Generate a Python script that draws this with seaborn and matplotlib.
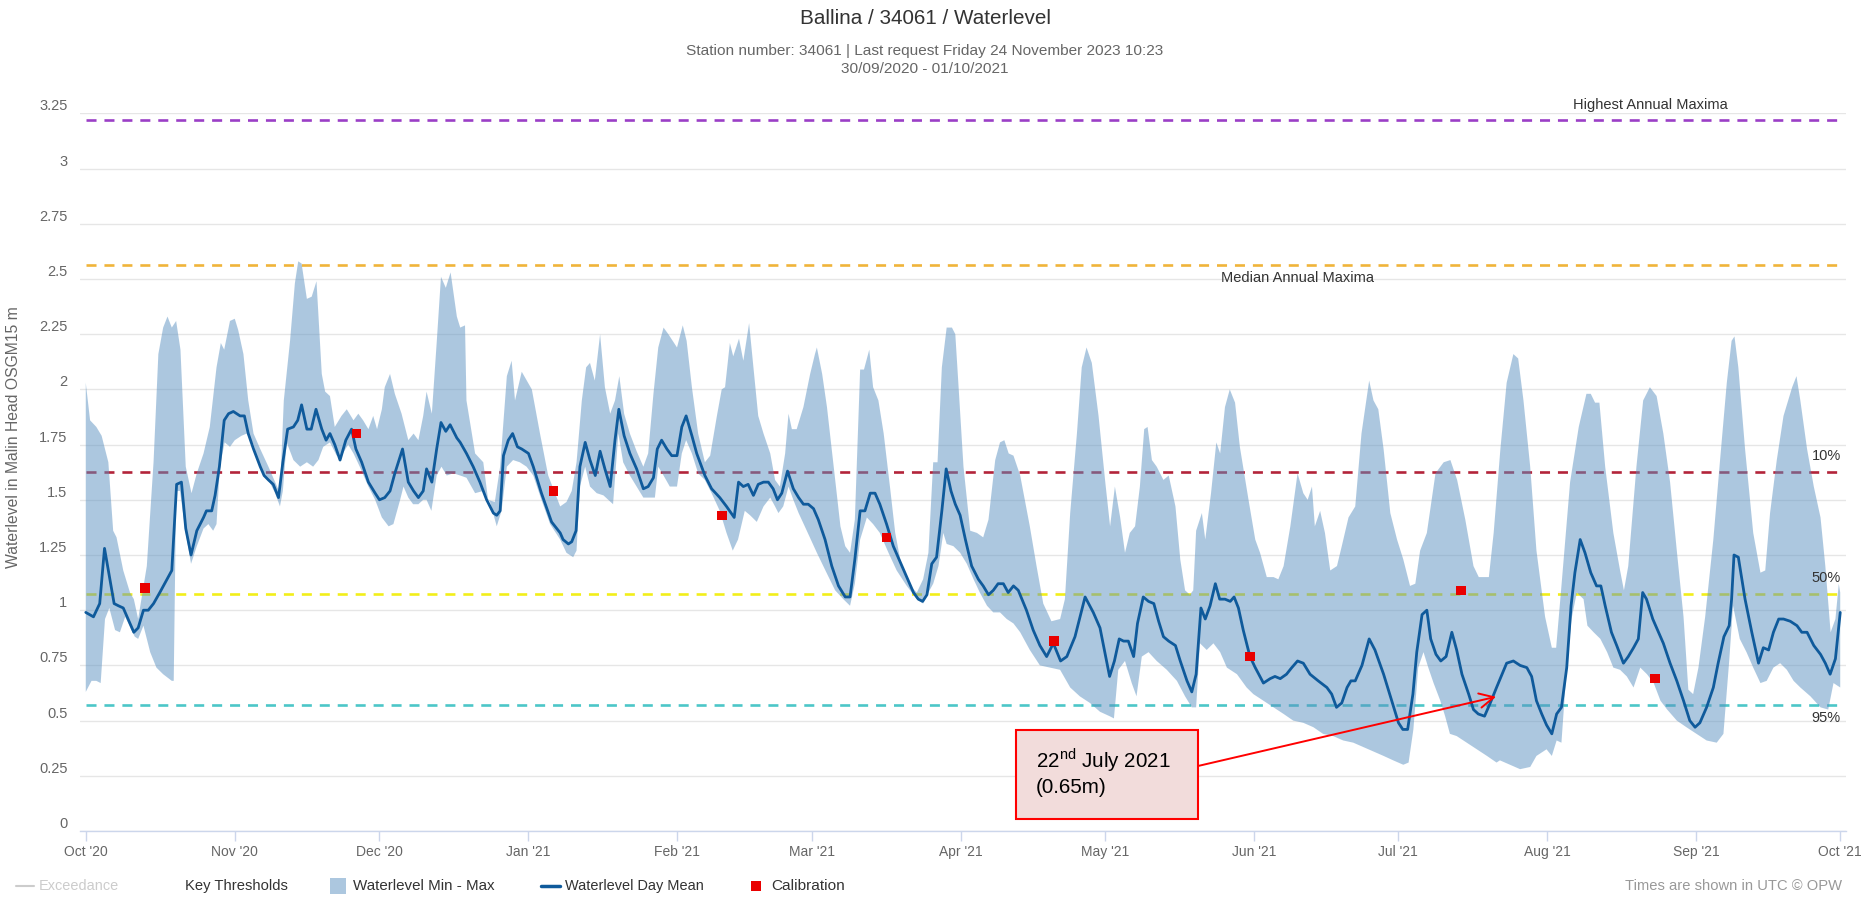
import matplotlib
matplotlib.use("Agg")
import numpy as np
import pandas as pd
import seaborn as sns
import matplotlib.pyplot as plt
from matplotlib.patches import Rectangle
from matplotlib.lines import Line2D

# ---------------------
#   data, days counted from 1 Oct 2020
# ---------------------
START = pd.Timestamp("2020-10-01")

mean_day = [0, 1.6, 2.9, 3.9, 4.7, 5.9, 6.8, 7.8, 9.2, 10.0, 10.9, 12.0, 13.0, 14.1, 15.4, 17.9, 18.9, 19.9,
            20.8, 21.9, 23.1, 24.5, 25.1, 26.2, 26.9, 27.8, 28.8, 29.7, 30.7, 32.1, 33.0, 33.8, 34.9, 36.3,
            37.1, 38.0, 39.0, 40.1, 41.0, 42.0, 43.2, 44.1, 44.9, 46.0, 46.9, 47.9, 49.1, 50.0, 50.8, 51.8,
            52.9, 54.1, 55.3, 56.2, 57.4, 58.8, 60.2, 61.1, 62.2, 63.3, 64.3, 65.9, 67.1, 68.2, 69.2, 70.2,
            70.9, 72.0, 73.0, 73.9, 74.9, 75.8, 77.2, 77.9, 79.2, 80.6, 82.0, 83.4, 84.8, 85.5, 86.2, 86.9,
            87.9, 88.8, 89.8, 90.7, 92.1, 93.1, 94.8, 96.9, 98.7, 99.3, 100.4, 101.1, 102.0, 102.8, 103.9,
            104.9, 106.0, 107.0, 108.0, 109.1, 110.1, 110.9, 112.0, 113.2, 114.6, 116.0, 117.0, 118.1, 118.9,
            119.8, 120.9, 121.9, 123.0, 124.0, 124.9, 126.1, 127.1, 128.8, 130.2, 131.9, 133.3, 134.9, 135.8,
            136.8, 137.8, 138.9, 139.9, 141.0, 142.0, 143.0, 143.9, 144.8, 146.0, 147.2, 148.3, 149.3, 150.3,
            151.4, 152.4, 153.8, 155.2, 156.6, 158.0, 159.0, 160.0, 161.1, 162.1, 163.2, 164.2, 165.2, 166.6,
            168.0, 169.4, 170.8, 172.2, 173.2, 174.1, 175.0, 176.0, 177.0, 178.1, 179.0, 180.0, 180.9, 181.9,
            183.0, 184.3, 185.7, 186.7, 187.8, 188.8, 189.8, 190.9, 191.9, 193.0, 194.0, 195.7, 197.1, 198.5,
            199.9, 201.3, 202.8, 204.1, 205.8, 207.9, 209.6, 211.0, 213.0, 214.0, 215.0, 215.9, 216.9, 218.0,
            218.8, 220.0, 221.1, 222.2, 223.2, 224.2, 225.3, 226.7, 227.7, 229.1, 230.1, 231.0, 232.0, 232.9,
            233.9, 235.0, 235.9, 237.0, 238.1, 238.9, 239.8, 240.8, 242.2, 243.3, 245.0, 246.4, 247.4, 248.5,
            249.8, 250.9, 252.1, 253.3, 254.7, 256.4, 258.2, 259.2, 260.2, 261.3, 262.4, 263.2, 264.1, 265.5,
            267.0, 268.2, 270.0, 271.4, 273.1, 274.0, 275.0, 276.1, 276.9, 278.0, 279.0, 279.8, 280.9, 281.9,
            283.0, 284.2, 285.2, 286.3, 287.7, 288.7, 289.7, 291.0, 292.2, 293.5, 295.6, 297.0, 298.4, 299.8,
            300.8, 301.8, 302.9, 303.9, 305.0, 306.0, 307.0, 308.1, 309.0, 309.8, 310.9, 311.9, 313.1, 314.3,
            315.2, 316.1, 317.4, 318.5, 319.9, 320.9, 322.0, 323.0, 323.9, 324.7, 326.0, 327.2, 328.2, 329.6,
            331.0, 332.4, 333.7, 334.8, 335.8, 337.2, 338.6, 339.6, 340.8, 341.9, 342.4, 342.9, 343.8, 345.2,
            346.6, 348.0, 349.0, 350.1, 351.1, 352.2, 353.2, 354.6, 356.0, 357.0, 358.1, 359.5, 360.9, 361.9,
            362.9, 364.0, 365.0]
mean_level = [0.99, 0.97, 1.03, 1.28, 1.18, 1.03, 1.02, 1.01, 0.94, 0.90, 0.92, 1.00, 1.00, 1.03, 1.08, 1.18, 1.57, 1.58,
              1.37, 1.25, 1.36, 1.42, 1.45, 1.45, 1.52, 1.65, 1.86, 1.89, 1.90, 1.88, 1.88, 1.80, 1.73, 1.65,
              1.61, 1.59, 1.57, 1.51, 1.67, 1.82, 1.83, 1.86, 1.93, 1.82, 1.82, 1.91, 1.82, 1.77, 1.80, 1.75,
              1.68, 1.77, 1.82, 1.73, 1.67, 1.58, 1.53, 1.50, 1.51, 1.54, 1.62, 1.73, 1.58, 1.54, 1.51, 1.54,
              1.64, 1.58, 1.73, 1.85, 1.81, 1.84, 1.78, 1.76, 1.71, 1.65, 1.58, 1.50, 1.44, 1.43, 1.45, 1.70,
              1.77, 1.80, 1.74, 1.73, 1.71, 1.65, 1.53, 1.40, 1.35, 1.32, 1.30, 1.31, 1.36, 1.65, 1.76,
              1.68, 1.61, 1.72, 1.64, 1.56, 1.77, 1.91, 1.79, 1.71, 1.64, 1.55, 1.56, 1.60, 1.73,
              1.77, 1.73, 1.70, 1.70, 1.83, 1.88, 1.79, 1.71, 1.61, 1.55, 1.51, 1.47, 1.42, 1.58,
              1.56, 1.57, 1.52, 1.57, 1.58, 1.58, 1.55, 1.50, 1.53, 1.63, 1.55, 1.51, 1.48, 1.48,
              1.46, 1.41, 1.32, 1.20, 1.11, 1.06, 1.06, 1.23, 1.45, 1.45, 1.53, 1.53, 1.48, 1.39,
              1.29, 1.22, 1.15, 1.08, 1.05, 1.04, 1.07, 1.21, 1.24, 1.45, 1.64, 1.54, 1.48, 1.43,
              1.32, 1.20, 1.14, 1.11, 1.07, 1.09, 1.12, 1.12, 1.08, 1.11, 1.09, 1.00, 0.91, 0.84,
              0.79, 0.85, 0.77, 0.79, 0.88, 1.06, 0.99, 0.92, 0.70, 0.77, 0.87, 0.86, 0.86, 0.79,
              0.94, 1.06, 1.04, 1.03, 0.95, 0.88, 0.86, 0.84, 0.77, 0.68, 0.63, 0.71, 1.01, 0.96,
              1.02, 1.12, 1.05, 1.05, 1.04, 1.06, 1.01, 0.91, 0.79, 0.74, 0.67, 0.69, 0.70, 0.69,
              0.71, 0.74, 0.77, 0.76, 0.71, 0.68, 0.65, 0.62, 0.56, 0.58, 0.65, 0.68, 0.68, 0.75,
              0.87, 0.82, 0.71, 0.61, 0.49, 0.46, 0.46, 0.62, 0.81, 0.98, 1.00, 0.87, 0.80, 0.77,
              0.79, 0.90, 0.82, 0.71, 0.62, 0.55, 0.53, 0.52, 0.58, 0.65, 0.76, 0.77, 0.75, 0.74,
              0.70, 0.59, 0.53, 0.48, 0.44, 0.53, 0.56, 0.74, 1.02, 1.17, 1.32, 1.26, 1.17, 1.11,
              1.11, 1.02, 0.90, 0.84, 0.76, 0.79, 0.83, 0.87, 1.08, 1.05, 0.96, 0.90, 0.85, 0.76,
              0.68, 0.59, 0.50, 0.47, 0.49, 0.56, 0.65, 0.76, 0.88, 0.93, 1.05, 1.25, 1.24, 1.05,
              0.90, 0.76, 0.83, 0.82, 0.90, 0.96, 0.96, 0.95, 0.93, 0.90, 0.90, 0.84, 0.80, 0.76,
              0.71, 0.78, 0.99]

max_day = [0, 0.9, 2.2, 3.3, 4.7, 5.7, 6.4, 7.8, 9.2, 10.0, 10.9, 12.7, 14.1, 15.1, 16.1, 17.0, 17.9, 18.8,
           19.7, 20.8, 22.0, 23.1, 24.5, 25.8, 27.2, 28.1, 28.8, 30.0, 31.0, 31.7, 32.8, 33.8, 34.9, 36.3,
           38.0, 39.4, 40.4, 41.2, 42.5, 43.5, 44.2, 44.9, 46.0, 47.0, 48.0, 49.1, 49.8, 50.8, 51.8, 53.2,
           54.3, 55.7, 56.7, 57.7, 58.8, 59.8, 60.6, 61.6, 62.2, 63.3, 64.3, 65.7, 67.1, 68.2, 69.2, 70.2,
           70.9, 72.0, 73.0, 73.9, 74.9, 75.9, 77.2, 77.9, 78.9, 79.2, 81.0, 82.7, 83.7, 85.1, 86.2, 87.6,
           88.6, 89.3, 90.7, 92.8, 94.5, 96.2, 98.7, 100.0, 101.1, 102.1, 103.2, 104.1, 104.9, 105.9, 107.0,
           108.0, 109.1, 110.1, 111.0, 112.0, 113.2, 114.6, 116.0, 117.0, 118.1, 119.1, 120.2, 121.2, 123.0,
           124.2, 125.0, 126.1, 127.4, 128.8, 129.9, 131.3, 132.3, 133.0, 134.0, 134.7, 135.9, 136.8, 138.0,
           138.9, 139.9, 141.0, 142.4, 143.4, 144.4, 145.5, 146.2, 146.9, 147.9, 149.3, 150.7, 151.7, 152.1,
           153.2, 154.2, 155.6, 157.0, 158.0, 159.0, 160.0, 161.1, 161.9, 163.0, 163.8, 164.9, 166.0, 167.3,
           168.4, 169.7, 171.5, 172.9, 174.2, 175.3, 176.3, 177.2, 178.1, 179.1, 180.2, 180.9, 181.5, 182.6,
           184.0, 185.4, 186.7, 187.8, 189.2, 190.2, 191.1, 192.0, 193.0, 194.4, 196.4, 197.8, 199.2, 200.9,
           202.7, 203.7, 204.8, 206.2, 207.2, 208.2, 209.3, 210.7, 212.1, 213.1, 214.1, 215.2, 216.2, 217.2,
           218.3, 219.3, 220.2, 220.9, 221.8, 222.8, 224.2, 225.3, 226.7, 227.7, 228.7, 229.7, 230.4, 231.0,
           232.2, 232.9, 234.1, 235.2, 236.0, 237.0, 238.0, 239.1, 240.1, 241.9, 243.3, 244.3, 245.7, 247.1,
           248.1, 249.2, 250.6, 252.1, 253.3, 254.2, 255.1, 255.7, 256.8, 257.8, 258.9, 260.3, 261.3, 262.7,
           264.1, 265.4, 267.0, 267.9, 268.9, 270.0, 271.4, 272.8, 274.1, 275.5, 276.6, 277.6, 279.0, 280.8,
           282.5, 283.9, 285.3, 287.0, 288.7, 289.8, 291.9, 292.9, 294.3, 295.6, 297.0, 298.0, 299.1, 300.5,
           301.8, 303.6, 305.0, 305.9, 307.0, 308.8, 310.6, 312.2, 313.1, 314.0, 314.9, 316.1, 317.8, 319.2,
           320.0, 320.9, 322.6, 324.0, 325.4, 326.8, 328.2, 329.6, 331.0, 332.4, 333.4, 334.4, 335.5, 336.9,
           338.6, 340.0, 341.4, 342.4, 343.0, 343.8, 345.2, 346.9, 348.4, 349.4, 350.4, 351.8, 353.2, 355.0,
           355.9, 356.7, 358.1, 359.5, 360.9, 361.9, 363.0, 364.0, 364.7, 365.0]
max_level = [2.03, 1.86, 1.83, 1.79, 1.67, 1.36, 1.33, 1.18, 1.08, 1.05, 0.96, 1.20, 1.67, 2.16, 2.28, 2.33, 2.28, 2.31,
             2.18, 1.65, 1.53, 1.62, 1.71, 1.83, 2.10, 2.21, 2.18, 2.31, 2.32, 2.27, 2.16, 1.95, 1.80, 1.73,
             1.65, 1.58, 1.53, 1.95, 2.22, 2.48, 2.58, 2.57, 2.41, 2.42, 2.49, 2.07, 1.99, 1.97, 1.83, 1.88,
             1.91, 1.86, 1.89, 1.86, 1.82, 1.88, 1.82, 1.91, 2.01, 2.07, 1.98, 1.89, 1.77, 1.80, 1.77, 1.88,
             1.99, 1.89, 2.21, 2.51, 2.46, 2.53, 2.33, 2.28, 2.29, 1.95, 1.71, 1.67, 1.50, 1.49, 1.65, 2.06,
             2.13, 1.95, 2.08, 2.00, 1.80, 1.61, 1.47, 1.49, 1.54, 1.67, 1.95, 2.10, 2.12, 2.04, 2.25,
             2.01, 1.89, 1.95, 2.06, 1.89, 1.80, 1.72, 1.65, 1.71, 1.98, 2.19, 2.28, 2.25, 2.19,
             2.29, 2.22, 2.01, 1.80, 1.67, 1.70, 1.88, 2.00, 2.01, 2.21, 2.15, 2.23, 2.13, 2.30,
             2.10, 1.88, 1.80, 1.71, 1.59, 1.56, 1.71, 1.89, 1.82, 1.82, 1.92, 2.07, 2.16, 2.19,
             2.07, 1.92, 1.65, 1.38, 1.29, 1.26, 1.41, 2.09, 2.09, 2.18, 2.01, 1.95, 1.80, 1.56,
             1.35, 1.20, 1.11, 1.08, 1.14, 1.26, 1.67, 1.67, 2.10, 2.28, 2.28, 2.25, 2.04, 1.65,
             1.36, 1.35, 1.33, 1.41, 1.68, 1.76, 1.77, 1.71, 1.70, 1.61, 1.38, 1.20, 1.03, 0.95,
             0.96, 1.05, 1.44, 1.80, 2.10, 2.19, 2.12, 1.88, 1.58, 1.38, 1.56, 1.42, 1.26, 1.35,
             1.38, 1.56, 1.82, 1.83, 1.68, 1.65, 1.59, 1.61, 1.47, 1.23, 1.09, 1.07, 1.09, 1.36,
             1.44, 1.32, 1.53, 1.76, 1.71, 1.92, 2.00, 1.94, 1.74, 1.50, 1.32, 1.26, 1.15, 1.15,
             1.14, 1.20, 1.38, 1.62, 1.53, 1.50, 1.56, 1.38, 1.45, 1.35, 1.18, 1.20, 1.29, 1.42,
             1.47, 1.80, 2.04, 1.95, 1.91, 1.73, 1.44, 1.32, 1.23, 1.11, 1.12, 1.27, 1.35, 1.62,
             1.67, 1.68, 1.59, 1.41, 1.20, 1.15, 1.15, 1.35, 1.73, 2.03, 2.16, 2.14, 1.95, 1.65,
             1.27, 0.97, 0.83, 0.83, 1.11, 1.58, 1.83, 1.98, 1.98, 1.94, 1.94, 1.65, 1.35, 1.18,
             1.09, 1.20, 1.65, 1.95, 2.01, 1.97, 1.80, 1.58, 1.27, 0.97, 0.64, 0.62, 0.74, 0.97,
             1.32, 1.68, 2.03, 2.22, 2.24, 2.10, 1.73, 1.35, 1.17, 1.18, 1.44, 1.68, 1.88, 2.01,
             2.06, 1.95, 1.73, 1.56, 1.42, 1.20, 0.90, 0.96, 1.12, 1.08]

min_day = [0, 1.2, 2.2, 3.1, 4.0, 4.9, 6.1, 7.1, 8.2, 9.3, 10.2, 10.9, 12.0, 13.4, 14.7, 16.1, 17.9, 18.3,
           18.8, 19.6, 20.8, 21.9, 23.1, 24.5, 25.5, 26.5, 27.2, 27.9, 28.9, 30.0, 31.0, 32.4, 33.5, 34.9,
           36.2, 38.0, 39.4, 40.4, 41.0, 41.8, 43.2, 44.6, 46.0, 47.3, 48.4, 49.4, 50.8, 52.2, 53.2, 54.6,
           55.7, 57.0, 58.8, 60.2, 61.6, 63.0, 64.0, 65.4, 66.1, 67.1, 68.1, 69.2, 70.2, 70.9, 71.9, 73.0,
           74.0, 75.1, 76.5, 77.9, 79.2, 81.0, 82.7, 84.1, 85.5, 86.5, 87.6, 88.9, 90.3, 91.7, 93.1, 94.8,
           96.6, 98.7, 100.0, 101.4, 102.1, 102.8, 103.9, 104.9, 106.3, 107.7, 108.7, 109.7, 110.8, 111.8,
           113.2, 114.6, 116.0, 117.4, 118.4, 119.1, 120.2, 121.5, 123.0, 124.0, 124.9, 126.1, 127.4, 128.8,
           130.2, 131.9, 133.3, 134.6, 135.7, 137.1, 138.2, 139.6, 141.0, 142.4, 143.4, 144.1, 145.1, 146.2,
           147.2, 148.3, 150.0, 152.1, 154.1, 155.9, 157.6, 159.0, 160.0, 161.1, 162.5, 163.8, 165.2, 167.0,
           168.7, 170.8, 172.9, 174.2, 175.3, 176.3, 177.4, 178.4, 179.1, 180.5, 181.9, 183.3, 184.7, 186.0,
           187.5, 188.8, 190.2, 191.6, 193.0, 194.4, 196.4, 198.5, 200.6, 202.7, 204.8, 206.8, 208.9, 211.0,
           213.0, 213.9, 214.8, 216.2, 217.6, 218.6, 219.7, 221.1, 222.8, 224.9, 227.0, 228.7, 230.1, 231.0,
           231.8, 233.2, 234.6, 236.0, 237.4, 239.5, 241.5, 242.9, 245.0, 247.1, 249.2, 251.2, 253.3, 255.4,
           257.4, 259.5, 261.6, 263.7, 265.8, 267.9, 270.0, 272.0, 274.1, 275.2, 276.2, 277.2, 278.3, 279.3,
           280.4, 281.8, 282.8, 283.8, 285.2, 287.3, 289.4, 291.5, 293.5, 294.2, 296.3, 298.4, 300.5, 301.8,
           303.9, 305.0, 306.0, 307.0, 308.1, 309.1, 310.2, 311.6, 312.4, 313.7, 315.1, 316.5, 317.8, 319.2,
           320.6, 322.0, 323.4, 324.8, 326.2, 327.6, 329.0, 331.0, 333.0, 335.1, 337.2, 339.3, 340.7, 341.9,
           342.7, 344.1, 345.5, 346.9, 348.4, 349.7, 351.1, 352.5, 353.9, 355.3, 356.7, 358.8, 360.9, 362.5,
           363.6, 365.0]
min_level = [0.63, 0.68, 0.68, 0.67, 0.96, 1.01, 0.91, 0.90, 0.97, 0.92, 0.88, 0.87, 0.93, 0.81, 0.74, 0.71, 0.68, 0.68,
             1.54, 1.54, 1.35, 1.21, 1.29, 1.37, 1.39, 1.36, 1.39, 1.65, 1.76, 1.74, 1.77, 1.79, 1.80, 1.75,
             1.65, 1.59, 1.53, 1.47, 1.54, 1.76, 1.68, 1.65, 1.67, 1.65, 1.68, 1.74, 1.76, 1.70, 1.70, 1.75,
             1.71, 1.65, 1.56, 1.50, 1.42, 1.38, 1.39, 1.50, 1.56, 1.51, 1.48, 1.48, 1.50, 1.50, 1.45, 1.61,
             1.65, 1.61, 1.62, 1.61, 1.60, 1.53, 1.54, 1.49, 1.38, 1.45, 1.65, 1.68, 1.67, 1.65, 1.61, 1.50,
             1.39, 1.32, 1.26, 1.24, 1.27, 1.56, 1.65, 1.56, 1.53, 1.52, 1.50, 1.48, 1.80, 1.67,
             1.61, 1.56, 1.51, 1.51, 1.51, 1.65, 1.61, 1.56, 1.56, 1.71, 1.77, 1.71, 1.62, 1.59,
             1.53, 1.45, 1.35, 1.27, 1.32, 1.45, 1.43, 1.40, 1.47, 1.51, 1.47, 1.44, 1.47, 1.56,
             1.50, 1.44, 1.36, 1.26, 1.17, 1.09, 1.05, 1.02, 1.12, 1.32, 1.42, 1.39, 1.35, 1.26,
             1.18, 1.11, 1.05, 1.03, 1.08, 1.12, 1.20, 1.35, 1.30, 1.29, 1.26, 1.21, 1.14, 1.08,
             1.02, 0.99, 0.99, 0.96, 0.94, 0.90, 0.82, 0.75, 0.74, 0.73, 0.65, 0.61, 0.58, 0.54,
             0.52, 0.51, 0.73, 0.77, 0.67, 0.61, 0.79, 0.81, 0.77, 0.73, 0.68, 0.61, 0.56, 0.56,
             0.85, 0.82, 0.85, 0.81, 0.74, 0.71, 0.65, 0.62, 0.59, 0.56, 0.53, 0.50, 0.49, 0.47,
             0.44, 0.43, 0.41, 0.40, 0.38, 0.36, 0.34, 0.32, 0.30, 0.31, 0.46, 0.74, 0.81, 0.74,
             0.67, 0.59, 0.52, 0.44, 0.43, 0.40, 0.37, 0.34, 0.31, 0.32, 0.30, 0.28, 0.29, 0.34,
             0.37, 0.34, 0.41, 0.40, 0.74, 0.96, 1.08, 1.05, 0.93, 0.90, 0.87, 0.81, 0.74, 0.73,
             0.70, 0.65, 0.74, 0.71, 0.67, 0.59, 0.55, 0.50, 0.47, 0.44, 0.41, 0.40, 0.44, 0.77,
             1.02, 0.87, 0.81, 0.74, 0.67, 0.68, 0.74, 0.76, 0.73, 0.68, 0.65, 0.61, 0.56, 0.55,
             0.67, 0.65]

calib_day = [12.3, 56.3, 97.3, 132.4, 166.6, 201.4, 242.2, 286.1, 326.5]
calib_level = [1.10, 1.80, 1.54, 1.43, 1.33, 0.86, 0.79, 1.09, 0.69]

thresh_names = ["Highest Annual Maxima", "Median Annual Maxima", "10%", "50%", "95%"]
thresh_levels = [3.222, 2.563, 1.628, 1.075, 0.572]
thresh_colors = ["#9b3fc6", "#f0b43a", "#b3243a", "#f2ee1a", "#4cc6c8"]

ytick_vals = [0, 0.25, 0.5, 0.75, 1, 1.25, 1.5, 1.75, 2, 2.25, 2.5, 2.75, 3, 3.25]
ytick_text = ["0", "0.25", "0.5", "0.75", "1", "1.25", "1.5", "1.75", "2", "2.25", "2.5", "2.75", "3", "3.25"]
month_text = ["Oct '20", "Nov '20", "Dec '20", "Jan '21", "Feb '21", "Mar '21", "Apr '21",
              "May '21", "Jun '21", "Jul '21", "Aug '21", "Sep '21", "Oct '21"]

note_day, note_level = 293.4, 0.608


def to_dates(days):
    return START + pd.to_timedelta(np.asarray(days, dtype=float), unit="D")


# ---------------------
#   figure
# ---------------------
W, H = 1863, 898
sns.set_theme(style="white")
plt.rcParams["font.family"] = ["Liberation Sans", "DejaVu Sans"]
plt.rcParams["mathtext.fontset"] = "custom"
plt.rcParams["mathtext.rm"] = "Liberation Sans"

fig = plt.figure(figsize=(W / 100, H / 100), dpi=100)
fig.patch.set_facecolor("white")
ax = fig.add_axes([80 / W, 1 - 831 / H, (1846 - 80) / W, (831 - 113.4) / H])
renderer = fig.canvas.get_renderer()


def fx(x):
    return x / W


def fy(y):
    return 1 - y / H


def fit(t, width):
    w = t.get_window_extent(renderer).width
    t.set_fontsize(t.get_fontsize() * width / w)
    return t


ax.set_xlim(to_dates([-1.2])[0], to_dates([366.2])[0])
ax.set_ylim(0, 3.25)

mean_df = pd.DataFrame({"date": to_dates(mean_day), "level": mean_level})
sns.lineplot(data=mean_df, x="date", y="level", ax=ax, color="#0f5a9b", linewidth=2.0,
             errorbar=None, zorder=5)

band_x = np.concatenate([to_dates(max_day).to_numpy(), to_dates(min_day).to_numpy()[::-1]])
band_y = np.concatenate([np.asarray(max_level), np.asarray(min_level)[::-1]])
ax.fill(band_x, band_y, color="#5b91c1", alpha=0.5, lw=0, zorder=3)

sns.scatterplot(x=to_dates(calib_day), y=calib_level, ax=ax, marker="s", color="#e90000",
                s=46, edgecolor="none", linewidth=0, zorder=6)

d0, d1 = to_dates([0, 365])
for lvl, col in zip(thresh_levels, thresh_colors):
    ax.hlines(lvl, d0, d1, colors=col, linewidth=1.9, linestyles=[(0, (3.8, 3.0))], zorder=2)

ax.set_xlim(to_dates([-1.2])[0], to_dates([366.2])[0])
ax.set_ylim(0, 3.25)

# plot line labels
small = 10.5
lab_specs = [(309.4, "left", 14.6), (236.2, "left", -13.0), (365.1, "right", 15.7),
             (365.1, "right", 15.6), (365.1, "right", -13.0)]
for name, lvl, (day, ha, dy) in zip(thresh_names, thresh_levels, lab_specs):
    ax.annotate(name, xy=(to_dates([day])[0], lvl), xytext=(0, dy * 0.72), textcoords="offset points",
                ha=ha, va="center", color="#333333", fontsize=small, zorder=7, annotation_clip=False)

ax.set_xticks(pd.date_range("2020-10-01", "2021-10-01", freq="MS"))
ax.set_xticklabels(month_text)
ax.set_yticks(ytick_vals)
ax.set_yticklabels(ytick_text, va="bottom")
ax.set_xlabel("")
ax.set_ylabel("")
ax.grid(axis="y", color="#e6e6e6", linewidth=1)
ax.grid(axis="x", visible=False)
ax.set_axisbelow(True)
for s in ["top", "left", "right"]:
    ax.spines[s].set_visible(False)
ax.spines["bottom"].set_color("#ccd6eb")
ax.spines["bottom"].set_linewidth(1)
ax.tick_params(axis="x", length=7, width=1, color="#ccd6eb", direction="out",
               labelcolor="#666666", labelsize=10, pad=3, bottom=True)
ax.tick_params(axis="y", length=0, labelcolor="#666666", labelsize=small, pad=9)

# titles
t = fig.text(fx(925), fy(18), "Ballina / 34061 / Waterlevel", ha="center", va="center",
             color="#333333", fontsize=16)
fit(t, 252)
sub1 = fig.text(fx(925), fy(51), "Station number: 34061 | Last request Friday 24 November 2023 10:23",
                ha="center", va="center", color="#666666", fontsize=11)
fit(sub1, 478)
fig.text(fx(925), fy(69), "30/09/2020 - 01/10/2021", ha="center", va="center",
         color="#666666", fontsize=sub1.get_fontsize())
t = fig.text(fx(14), fy(437), "Waterlevel in Malin Head OSGM15 m", rotation=90, ha="center",
             va="center", color="#666666", fontsize=11)
bb = t.get_window_extent(renderer)
t.set_fontsize(t.get_fontsize() * 262 / bb.height)

# legend
ly = 886
fig.add_artist(Line2D([fx(16), fx(34)], [fy(ly), fy(ly)], color="#cccccc", lw=1.5))
leg = [(39, "Exceedance", "#cccccc", 80), (185, "Key Thresholds", "#333333", 102),
       (353, "Waterlevel Min - Max", "#333333", 141), (565, "Waterlevel Day Mean", "#333333", 138),
       (771, "Calibration", "#333333", 73)]
for x0, txt, col, wd in leg:
    t = fig.text(fx(x0), fy(ly), txt, ha="left", va="center", color=col, fontsize=11)
    fit(t, wd)
fig.add_artist(Rectangle((fx(330), fy(ly + 8)), 16 / W, 16 / H, transform=fig.transFigure,
                         facecolor="#5b91c1", alpha=0.5, lw=0))
fig.add_artist(Line2D([fx(541), fx(560)], [fy(ly), fy(ly)], color="#0f5a9b", lw=2.5))
fig.add_artist(Rectangle((fx(751), fy(ly + 5)), 10 / W, 10 / H, transform=fig.transFigure,
                         facecolor="#e90000", lw=0))
t = fig.text(fx(1842), fy(ly), "Times are shown in UTC \u00a9 OPW", ha="right", va="center",
             color="#999999", fontsize=11)
fit(t, 215)

# annotation box
fig.add_artist(Rectangle((fx(1016), fy(819)), (1198 - 1016) / W, (819 - 730) / H,
                         transform=fig.transFigure, facecolor="#f2dcdb", edgecolor="#ff0000", lw=1.5))
t1 = fig.text(fx(1036), fy(760), r"22$^{\mathrm{nd}}$ July 2021", ha="left", va="center",
              color="black", fontsize=13)
fit(t1, 135)
t2 = fig.text(fx(1036), fy(787.5), "(0.65m)", ha="left", va="center", color="black", fontsize=13)
t2.set_fontsize(t1.get_fontsize())
ax.annotate("", xy=(to_dates([note_day])[0], note_level), xycoords="data",
            xytext=(fx(1198), fy(766)), textcoords="figure fraction",
            arrowprops=dict(arrowstyle="->", color="#ff0000", lw=1.4, shrinkA=0, shrinkB=0,
                            mutation_scale=26),
            annotation_clip=False, zorder=8)

fig.savefig("out.png", dpi=100, facecolor="white")
